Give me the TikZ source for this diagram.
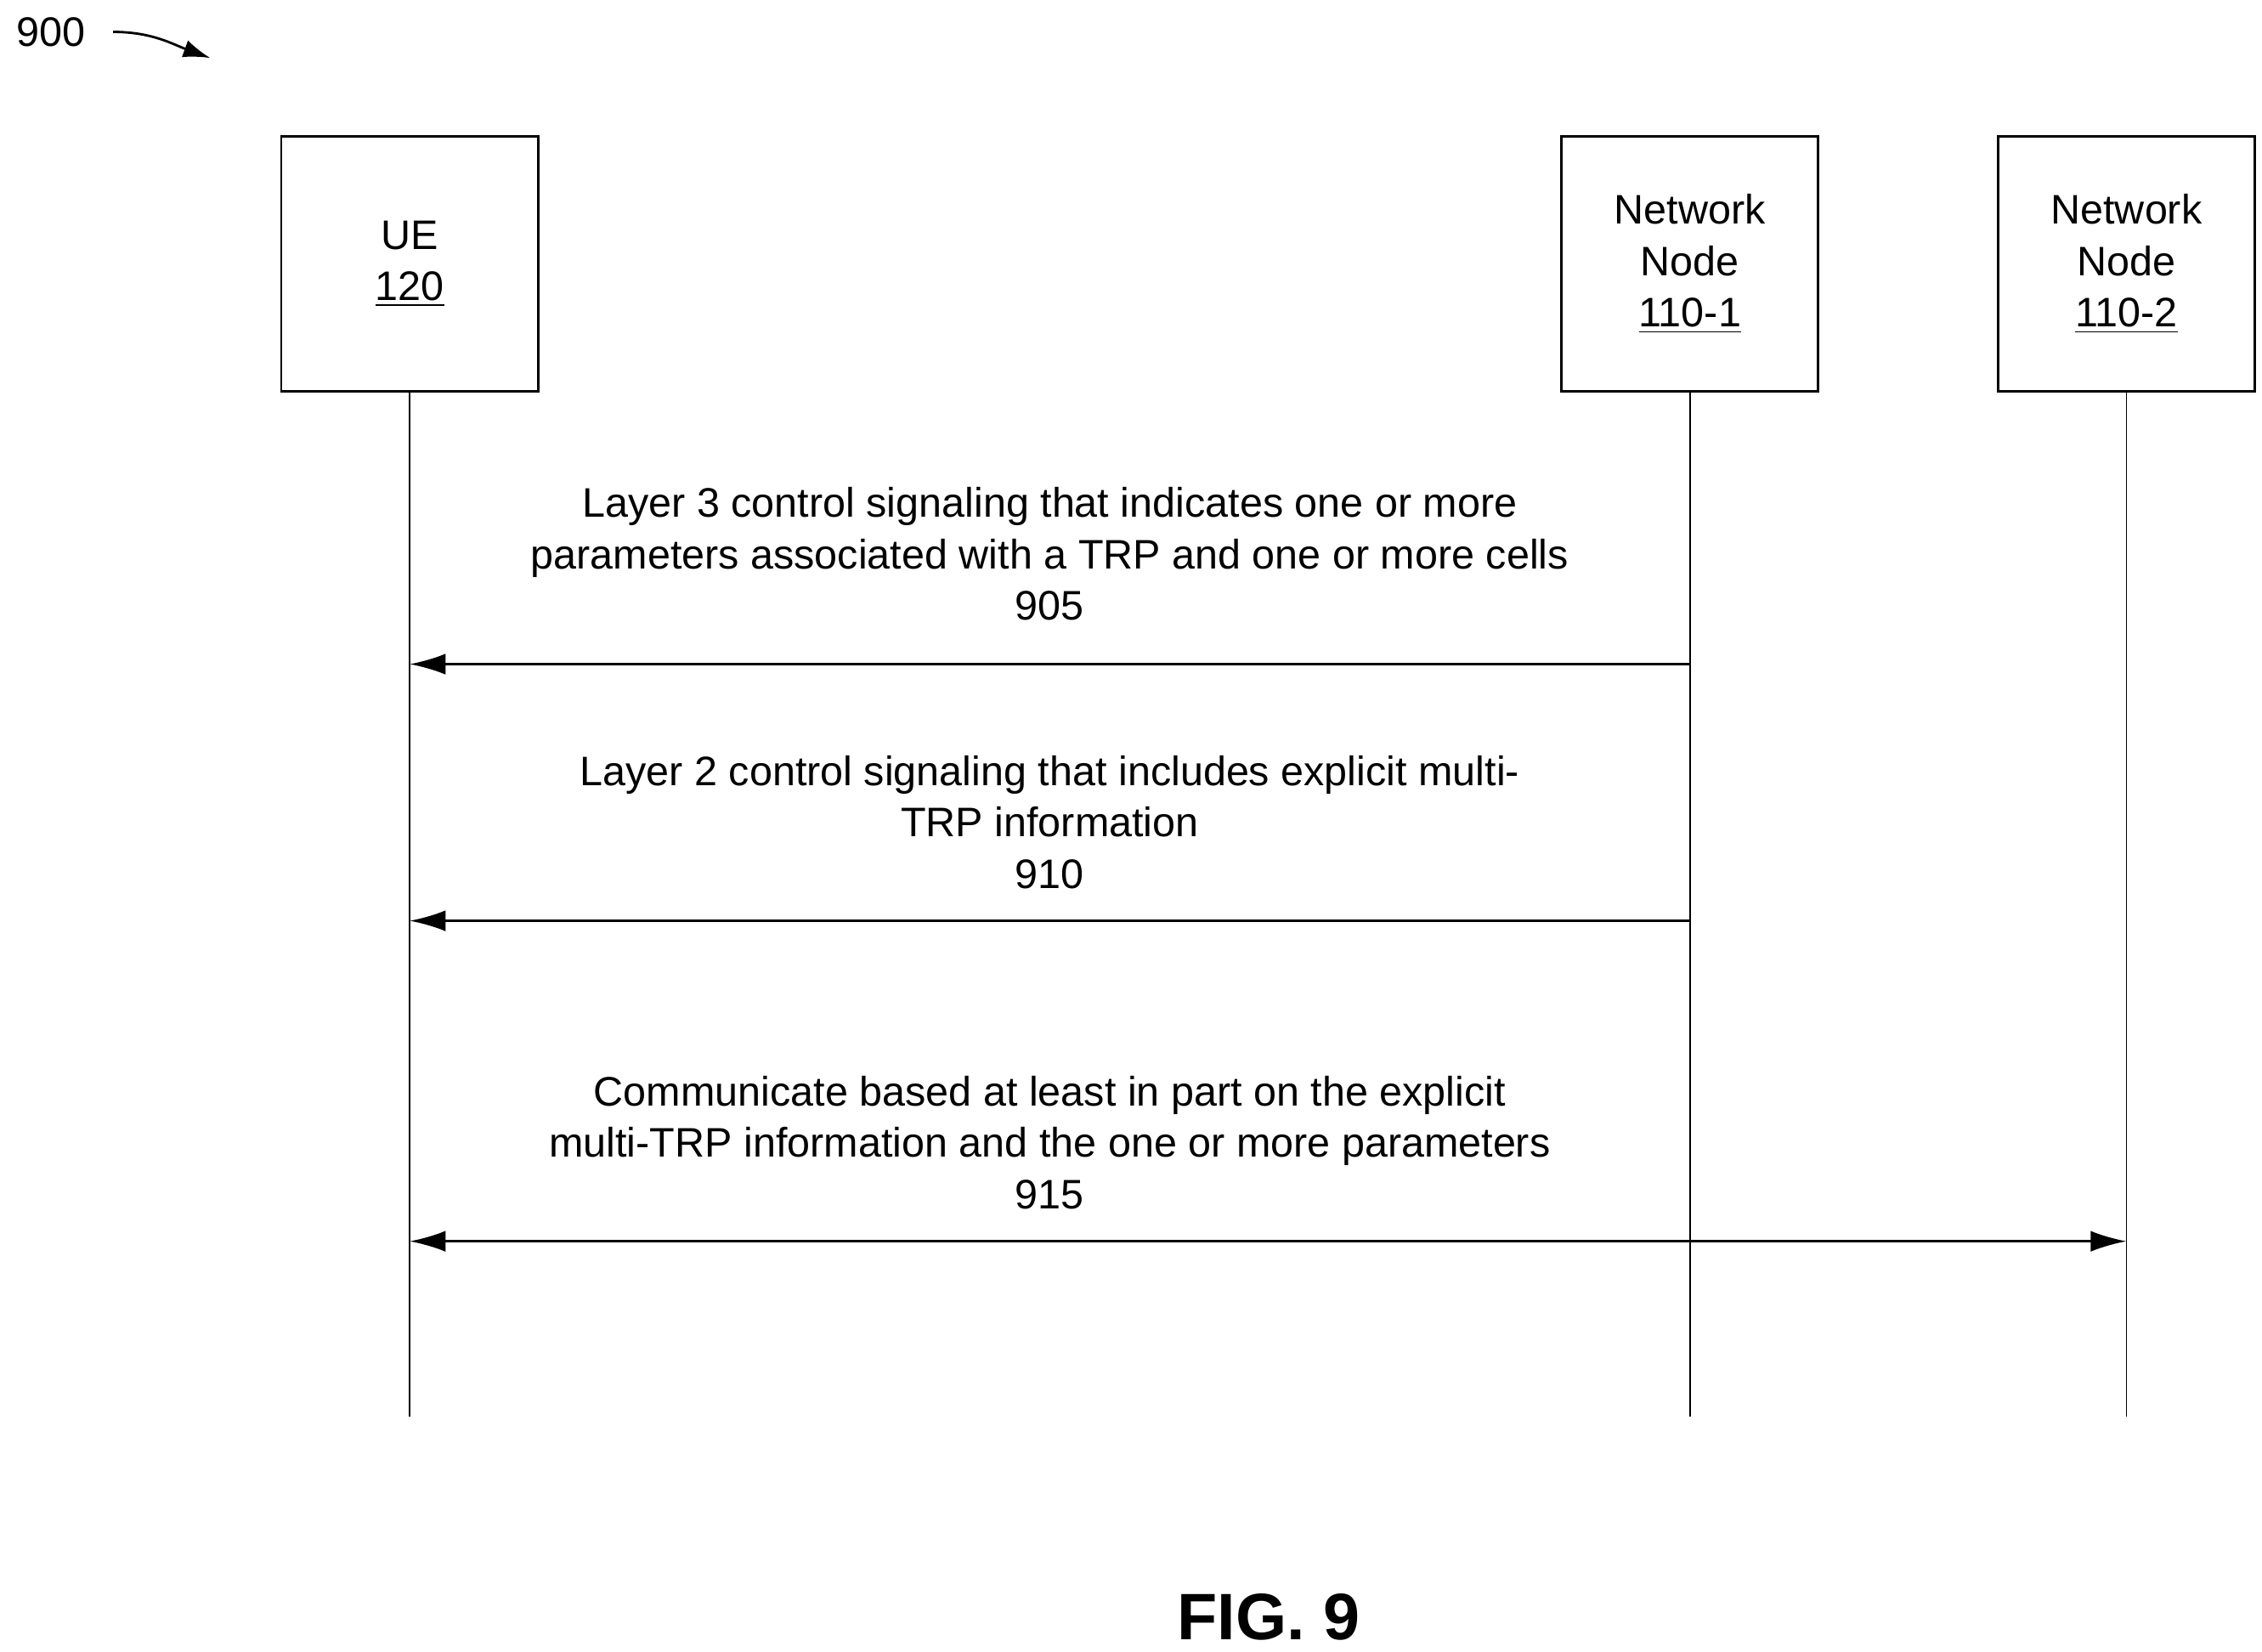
\documentclass[tikz,border=0pt]{standalone}
\usepackage{fontspec}
\setmainfont{Liberation Sans}
\usetikzlibrary{arrows.meta}
\tikzset{
  entity/.style={draw, thick, minimum width=3.02cm, minimum height=3.0cm, align=center, inner sep=0pt},
  msg/.style={thick, -{Latex[length=12pt,width=7pt]}},
  lbl/.style={align=center, font=\fontsize{13.8}{17.2}\selectfont},
}
\begin{document}
\begin{tikzpicture}[x=0.01706cm, y=-0.01706cm, every node/.style={font=\fontsize{13.8}{17.2}\selectfont}]
\useasboundingbox (0,0) rectangle (1560,1139);

\node (ref) at (35,22) {900};
\coordinate (refend) at (145,40);
\draw[thick, -{Latex[length=9pt,width=6pt]}] (ref.east) ++(12,0) to[out=0, in=160] (refend);

\node[entity] (ue) at (282.5,182) {UE\\\underline{120}};
\node[entity] (nn1) at (1165.5,182) {Network\\Node\\\underline{110-1}};
\node[entity] (nn2) at (1466.5,182) {Network\\Node\\\underline{110-2}};

\foreach \n/\x in {ue/282.5, nn1/1165.5, nn2/1466.5}{
  \coordinate (\n end) at (\x,977);
  \draw (\n.south) -- (\n end);
}

% messages
\coordinate (ue905) at (282.5,458);  \coordinate (nn905) at (1165.5,458);
\coordinate (ue910) at (282.5,635);  \coordinate (nn910) at (1165.5,635);
\coordinate (ue915) at (282.5,856);  \coordinate (nn915) at (1466.5,856);

\draw[msg] (nn905) -- (ue905);
\node[lbl] (t905) at (724,382) {Layer 3 control signaling that indicates one or more\\parameters associated with a TRP and one or more cells\\905};

\draw[msg] (nn910) -- (ue910);
\node[lbl] (t910) at (724,567) {Layer 2 control signaling that includes explicit multi-\\TRP information\\910};

\draw[msg, {Latex[length=12pt,width=7pt]}-{Latex[length=12pt,width=7pt]}] (ue915) -- (nn915);
\node[lbl] (t915) at (724,788) {Communicate based at least in part on the explicit\\multi-TRP information and the one or more parameters\\915};

\node[font=\fontsize{22}{26}\selectfont\bfseries] (fig) at (875,1115) {FIG. 9};
\end{tikzpicture}
\end{document}
